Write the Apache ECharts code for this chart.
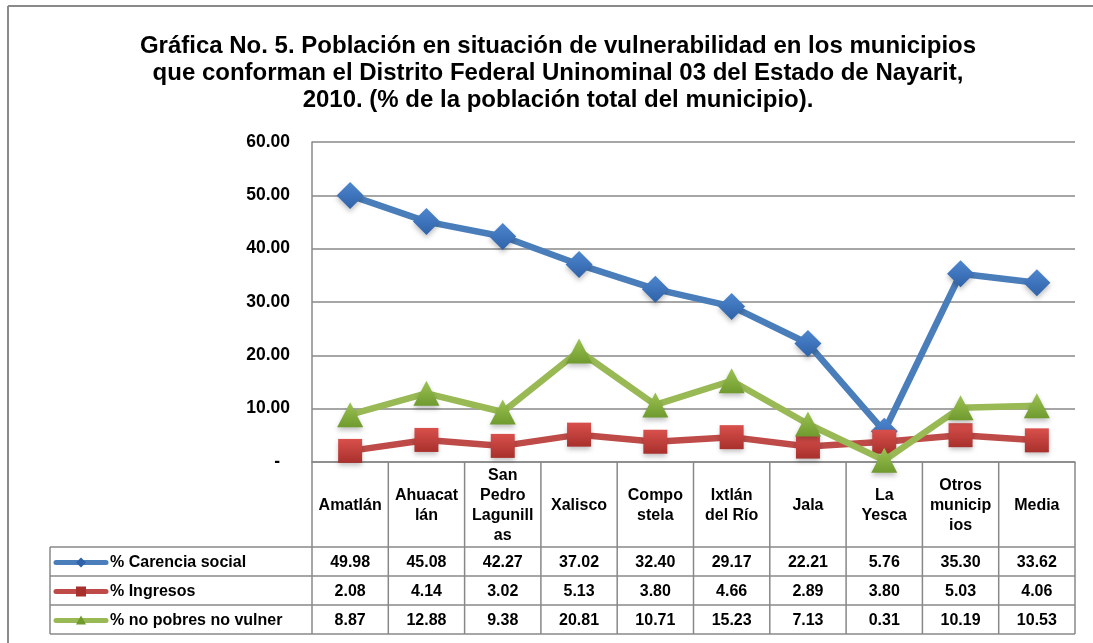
<!DOCTYPE html>
<html><head><meta charset="utf-8">
<script src="https://cdn.jsdelivr.net/npm/echarts@6/dist/echarts.min.js"></script>
<style>html,body{margin:0;padding:0;background:#fff}#c{width:1093px;height:643px}</style>
</head><body><div id="c"></div>
<script>
const titleText = 'Gráfica No. 5. Población en situación de vulnerabilidad en los municipios\nque conforman el Distrito Federal Uninominal 03 del Estado de Nayarit,\n2010. (% de la población total del municipio).';
const categories = ['Amatlán','Ahuacatlán','San Pedro Lagunillas','Xalisco','Compostela','Ixtlán del Río','Jala','La Yesca','Otros municipios','Media'];
const categoryLabels = ['Amatlán','Ahuacat\nlán','San\nPedro\nLagunill\nas','Xalisco','Compo\nstela','Ixtlán\ndel Río','Jala','La\nYesca','Otros\nmunicip\nios','Media'];
const seriesNames = ['% Carencia social','% Ingresos','% no pobres no vulner'];
const carencia = [49.98,45.08,42.27,37.02,32.40,29.17,22.21,5.76,35.30,33.62];
const ingresos = [2.08,4.14,3.02,5.13,3.80,4.66,2.89,3.80,5.03,4.06];
const noPobres = [8.87,12.88,9.38,20.81,10.71,15.23,7.13,0.31,10.19,10.53];
const yMin = 0, yMax = 60, yStep = 10;

const FONT = '"Liberation Sans", Arial, sans-serif';
const GRID = '#888888';
const lineColors = ['#4a7ebb', '#be4b48', '#98b954'];
const markerGrad = [
  ['#4d86cf', '#2f62a8'],
  ['#d9504c', '#a8302c'],
  ['#9cc352', '#6f9a2e']
];
const symbols = ['diamond', 'rect', 'triangle'];
const symbolSizes = [[27, 27], [24, 24], [26, 25]];
const allData = [carencia, ingresos, noPobres];

const chart = echarts.init(document.getElementById('c'), null, {renderer: 'canvas'});

function grad(c) {
  return {type: 'linear', x: 0, y: 0, x2: 0, y2: 1, colorStops: [{offset: 0, color: c[0]}, {offset: 1, color: c[1]}]};
}

const option = {
  animation: false,
  backgroundColor: '#ffffff',
  grid: {left: 312, right: 18, top: 142, bottom: 181},
  xAxis: {
    type: 'category', data: categories, boundaryGap: true,
    axisLabel: {show: false}, axisTick: {show: false},
    axisLine: {lineStyle: {color: GRID, width: 1.5}}
  },
  yAxis: {
    type: 'value', min: yMin, max: yMax, interval: yStep,
    axisLine: {show: true, lineStyle: {color: GRID, width: 1.5}},
    axisTick: {show: false},
    splitLine: {lineStyle: {color: GRID, width: 1.5}},
    axisLabel: {
      margin: 22, color: '#000', fontSize: 17.5, fontWeight: 'bold', fontFamily: FONT,
      formatter: v => v === 0 ? '{z|-}' : v.toFixed(2),
      rich: {z: {padding: [0, 10, 0, 0], fontSize: 17.5, fontWeight: 'bold', fontFamily: FONT, color: '#000'}}
    }
  },
  series: allData.map((d, i) => ({
    type: 'line', name: seriesNames[i], data: d,
    symbol: symbols[i], symbolSize: symbolSizes[i], showAllSymbol: true,
    lineStyle: {width: 6.5, color: lineColors[i]},
    itemStyle: {color: grad(markerGrad[i]), shadowBlur: 5, shadowOffsetY: 3, shadowColor: 'rgba(0,0,0,0.25)'},
    emphasis: {disabled: true},
    z: 2 + i
  }))
};
chart.setOption(option);

// Build the title, border, and data table
const xs = categories.map((c, i) => chart.convertToPixel({xAxisIndex: 0}, i));
const band = xs[1] - xs[0];
const y0 = chart.convertToPixel({yAxisIndex: 0}, 0);
const leftX = xs[0] - band / 2;
const rightX = xs[xs.length - 1] + band / 2;
const catBottom = y0 + 85;
const rowH = 29;
const tableLeft = 50;
const tableBottom = catBottom + rowH * 3;

const g = [];
const ln = (x1, y1, x2, y2, w, c) => g.push({type: 'line', silent: true, z: 1, shape: {x1, y1, x2, y2}, style: {stroke: c || GRID, lineWidth: w || 1.5}});
const txt = (text, x, y, align, extra) => g.push({type: 'text', silent: true, z: 10, x, y, style: Object.assign({text, align: align || 'center', verticalAlign: 'middle', fill: '#000', fontSize: 16, fontWeight: 'bold', fontFamily: FONT, lineHeight: 20}, extra || {})});

// outer border
ln(8, 6, 1093, 6, 2, '#8a8a8a');
ln(8, 6, 8, 643, 2, '#8a8a8a');
// title
txt(titleText, 558, 73, 'center', {fontSize: 24, lineHeight: 27});

// table verticals
for (let i = 0; i <= categories.length; i++) {
  const x = leftX + i * band;
  ln(x, y0, x, tableBottom);
}
ln(tableLeft, catBottom, tableLeft, tableBottom);
for (let r = 0; r <= 3; r++) {
  ln(tableLeft, catBottom + r * rowH, rightX, catBottom + r * rowH);
}
// category labels
categoryLabels.forEach((t, i) => txt(t, xs[i], (y0 + catBottom) / 2 + 1));
// rows
allData.forEach((d, r) => {
  const cy = catBottom + r * rowH + rowH / 2 + 1;
  d.forEach((v, i) => txt(v.toFixed(2), xs[i], cy));
  // legend swatch
  g.push({type: 'line', silent: true, z: 5, shape: {x1: 56, y1: cy, x2: 106, y2: cy}, style: {stroke: lineColors[r], lineWidth: 5, lineCap: 'round'}});
  const mx = 81;
  if (r === 0) g.push({type: 'polygon', silent: true, z: 6, shape: {points: [[mx, cy - 5], [mx + 5, cy], [mx, cy + 5], [mx - 5, cy]]}, style: {fill: markerGrad[0][1]}});
  if (r === 1) g.push({type: 'rect', silent: true, z: 6, shape: {x: mx - 5, y: cy - 5, width: 10, height: 10}, style: {fill: markerGrad[1][1]}});
  if (r === 2) g.push({type: 'polygon', silent: true, z: 6, shape: {points: [[mx, cy - 5], [mx + 5, cy + 4], [mx - 5, cy + 4]]}, style: {fill: markerGrad[2][1]}});
  txt(seriesNames[r], 110, cy, 'left');
});

chart.setOption({graphic: {elements: g}});
</script>
</body></html>
